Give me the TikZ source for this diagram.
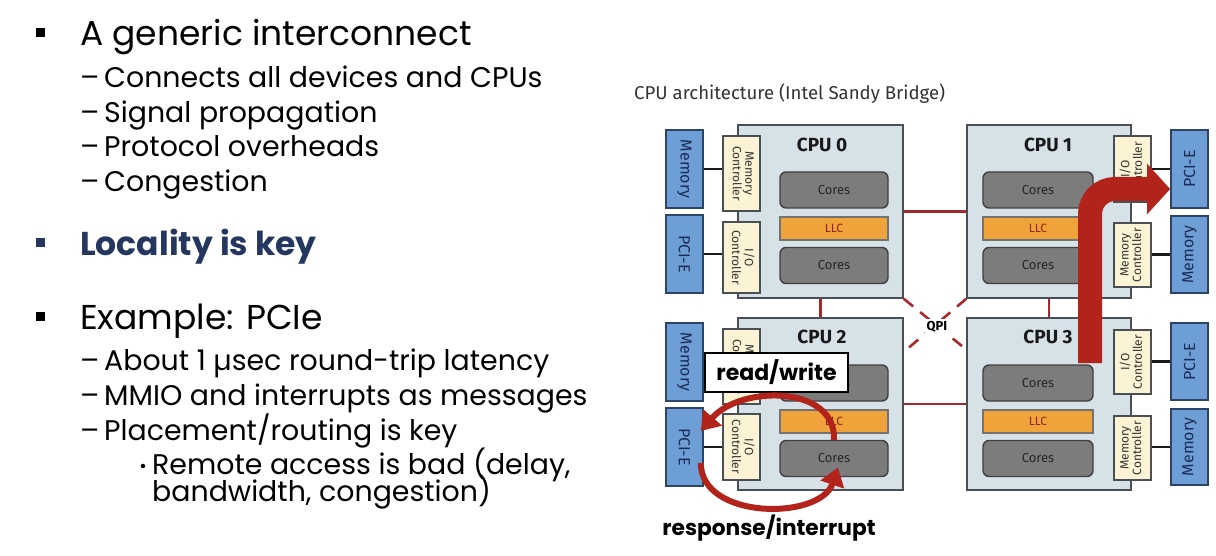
\documentclass[tikz,border=0pt]{standalone}
\usepackage{fontspec}
\setmainfont{Poppins}
\newfontfamily\diagfont{Fira Sans}
\usetikzlibrary{arrows.meta,calc}

\definecolor{cpufill}{HTML}{D6E1E8}
\definecolor{cpuedge}{HTML}{4A4F55}
\definecolor{devfill}{HTML}{6D9ED6}
\definecolor{devedge}{HTML}{2E4466}
\definecolor{devtext}{HTML}{1C2C55}
\definecolor{ctlfill}{HTML}{FCF3D4}
\definecolor{corefill}{HTML}{7C7C7C}
\definecolor{llcfill}{HTML}{F0A23B}
\definecolor{llctext}{HTML}{8C2A0C}
\definecolor{linkred}{HTML}{A8282C}
\definecolor{arrowred}{HTML}{B2241B}
\definecolor{navy}{HTML}{26375F}

\tikzset{
  cpu/.style={draw=cpuedge, fill=cpufill, line width=1.6pt, inner sep=0pt},
  dev/.style={draw=devedge, fill=devfill, line width=1.6pt, inner sep=0pt,
    minimum width=37pt, font=\diagfont\fontsize{16}{16}\selectfont, text=devtext},
  ctl/.style={draw=cpuedge, fill=ctlfill, line width=1.4pt, inner sep=0pt,
    minimum width=37pt, font=\diagfont\fontsize{12}{12}\selectfont, text=black!80},
  core/.style={draw=black!75, fill=corefill, rounded corners=6pt, line width=1.4pt,
    minimum height=36pt, inner sep=0pt, font=\diagfont\fontsize{13}{13}\selectfont, text=black!85},
  llc/.style={draw=black!55, fill=llcfill, line width=1.2pt, minimum height=23pt,
    inner sep=0pt, font=\diagfont\fontsize{12}{12}\selectfont, text=llctext},
  cpulbl/.style={font=\diagfont\bfseries\fontsize{19}{19}\selectfont, text=black!90},
  link/.style={draw=linkred, line width=2.6pt},
  qpilink/.style={draw=linkred, line width=2.6pt, dash pattern=on 12pt off 9pt},
  bus/.style={draw=black!90, line width=2.6pt},
  bigarrow/.style={draw=arrowred, line width=24pt, rounded corners=25pt,
    -{Triangle[length=23pt,width=49pt]}},
  looparrow/.style={draw=arrowred, line width=6pt,
    -{Triangle[length=18pt,width=24pt]}},
  lvlone/.style={anchor=base west, inner sep=0pt, font=\fontsize{34.5}{34.5}\selectfont},
  lvltwo/.style={anchor=base west, inner sep=0pt, font=\fontsize{28.4}{28.4}\selectfont},
  lvlthree/.style={anchor=base west, inner sep=0pt, font=\fontsize{28.4}{28.4}\selectfont},
  sqbullet/.style={fill=#1, minimum size=9pt, inner sep=0pt},
  sqbullet/.default=black,
  tag/.style={font=\bfseries\fontsize{21.7}{21.7}\selectfont, inner sep=0pt},
}

\newcommand{\rotl}[1]{\rotatebox{90}{\begin{tabular}{@{}c@{}}#1\end{tabular}}}
\newcommand{\rotr}[1]{\rotatebox{-90}{\begin{tabular}{@{}c@{}}#1\end{tabular}}}

\begin{document}
\begin{tikzpicture}[x=1pt,y=-1pt]
\useasboundingbox (0,0) rectangle (1216,556);

% ---------------- bullet list ----------------
\node[sqbullet] (b1) at (40,33) {};
\node[lvlone] (t1) at (80,46) {A generic interconnect};
\node[lvltwo] (d1) at (80,88) {–};
\node[lvltwo] (t11) at (104,88) {Connects all devices and CPUs};
\node[lvltwo] (d2) at (80,123) {–};
\node[lvltwo] (t12) at (104,123) {Signal propagation};
\node[lvltwo] (d3) at (80,157) {–};
\node[lvltwo] (t13) at (104,157) {Protocol overheads};
\node[lvltwo] (d4) at (80,192) {–};
\node[lvltwo] (t14) at (104,192) {Congestion};

\node[sqbullet=navy] (b2) at (40,243) {};
\node[lvlone, font=\bfseries\fontsize{33}{33}\selectfont, text=navy] (t2) at (80,256) {Locality is key};

\node[sqbullet] (b3) at (40,316) {};
\node[lvlone] (t3) at (80,329) {Example: PCIe};
\node[lvltwo] (d5) at (80,370) {–};
\node[lvltwo] (t31) at (104,370) {About 1 µsec round-trip latency};
\node[lvltwo] (d6) at (80,405) {–};
\node[lvltwo] (t32) at (104,405) {MMIO and interrupts as messages};
\node[lvltwo] (d7) at (80,440) {–};
\node[lvltwo] (t33) at (104,440) {Placement/routing is key};
\node[anchor=base, inner sep=0pt, font=\fontsize{18}{18}\selectfont] (bb) at (143,472) {•};
\node[lvlthree] (t331) at (152,474) {Remote access is bad (delay,};
\node[lvlthree] (t332) at (152,501) {bandwidth, congestion)};

% ---------------- diagram caption ----------------
\node[anchor=base west, inner sep=0pt, font=\diagfont\fontsize{18.6}{18.6}\selectfont, text=black!80]
  (cap) at (634,100) {CPU architecture (Intel Sandy Bridge)};

% ---------------- sockets ----------------
\node[cpu, minimum width=165pt, minimum height=173pt] (cpu0) at (820.5,211.5) {};
\node[cpu, minimum width=164pt, minimum height=173pt] (cpu1) at (1049,211.5) {};
\node[cpu, minimum width=165pt, minimum height=172pt] (cpu2) at (820.5,404) {};
\node[cpu, minimum width=164pt, minimum height=172pt] (cpu3) at (1049,404) {};

\node[cpulbl] (l0) at (822,145) {CPU 0};
\node[cpulbl] (l1) at (1048,145) {CPU 1};
\node[cpulbl] (l2) at (822,337) {CPU 2};
\node[cpulbl] (l3) at (1048,337) {CPU 3};

% QPI links
\draw[link] (cpu0) -- (cpu1);
\draw[link] (cpu2) -- (cpu3);
\draw[link] (cpu0) -- (cpu2);
\draw[link] (cpu1) -- (cpu3);
\coordinate (q3) at ($(cpu3.north west)!0.186!(cpu3.south west)$);
\coordinate (q2) at ($(cpu2.north east)!0.2!(cpu2.south east)$);
\draw[qpilink] (cpu0.south east) -- (q3);
\draw[qpilink] (cpu1.south west) -- (q2);
\node[fill=white, inner sep=2pt, font=\diagfont\bfseries\fontsize{13}{13}\selectfont] (qpi) at (937,327) {QPI};

% cores and last-level caches
\foreach \n/\cx/\w/\dy in {0/834/108/0, 2/834/108/193, 1/1038/110/0, 3/1038/110/193}{
  \node[core, minimum width=\w pt] (cores\n a) at (\cx,190+\dy) {Cores};
  \node[llc, minimum width=\w pt] (llc\n) at (\cx,228.5+\dy) {LLC};
  \node[core, minimum width=\w pt] (cores\n b) at (\cx,265.5+\dy) {Cores};
}

% controllers
\node[ctl, minimum height=75pt] (mc0) at (741.5,173.5) {\rotr{Memory\\Controller}};
\node[ctl, minimum height=71pt] (io0) at (741.5,257.5) {\rotr{I/O\\Controller}};
\node[ctl, minimum height=75pt] (mc2) at (741.5,366.5) {\rotr{Memory\\Controller}};
\node[ctl, minimum height=66pt] (io2) at (741.5,447) {\rotr{I/O\\Controller}};
\node[ctl, minimum height=66pt] (io1) at (1132.5,169) {\rotl{I/O\\Controller}};
\node[ctl, minimum height=64pt] (mc1) at (1132.5,255) {\rotl{Memory\\Controller}};
\node[ctl, minimum height=64pt] (io3) at (1132.5,362) {\rotl{I/O\\Controller}};
\node[ctl, minimum height=64pt] (mc3) at (1132.5,448) {\rotl{Memory\\Controller}};

% memory and PCI-E devices
\node[dev, minimum height=78pt] (mem0) at (684.5,169) {\rotatebox{-90}{Memory}};
\node[dev, minimum height=78pt] (pcie0) at (684.5,254) {\rotatebox{-90}{PCI-E}};
\node[dev, minimum height=78pt] (mem2) at (684.5,362) {\rotatebox{-90}{Memory}};
\node[dev, minimum height=78pt] (pcie2) at (684.5,447) {\rotatebox{-90}{PCI-E}};
\node[dev, minimum height=78pt] (pcie1) at (1189.5,169) {\rotatebox{90}{PCI-E}};
\node[dev, minimum height=77pt] (mem1) at (1189.5,254.5) {\rotatebox{90}{Memory}};
\node[dev, minimum height=77pt] (pcie3) at (1189.5,361.5) {\rotatebox{90}{PCI-E}};
\node[dev, minimum height=76pt] (mem3) at (1189.5,447) {\rotatebox{90}{Memory}};

% device buses
\draw[bus] (mem0.east) -- (mem0.east -| mc0.west);
\draw[bus] (pcie0.east) -- (pcie0.east -| io0.west);
\draw[bus] (mem2.east) -- (mem2.east -| mc2.west);
\draw[bus] (pcie2.east) -- (pcie2.east -| io2.west);
\draw[bus] (pcie1.west) -- (pcie1.west -| io1.east);
\draw[bus] (mem1.west) -- (mem1.west -| mc1.east);
\draw[bus] (pcie3.west) -- (pcie3.west -| io3.east);
\draw[bus] (mem3.west) -- (mem3.west -| mc3.east);

% remote access path from CPU 3 to the PCI-E device of CPU 1
\coordinate (remote) at (1090,363);
\coordinate (remotetip) at ($(pcie1.west)+(0,20)$);
\draw[bigarrow] (remote) -- (remote |- remotetip) -- (remotetip);

% local access loop between CPU 2 cores and its PCI-E device
\node[draw=black, line width=1.5pt, fill=white, minimum width=143pt, minimum height=39pt,
  inner sep=0pt, font=\bfseries\fontsize{22}{22}\selectfont] (rw) at (776.5,372.5) {read/write};
\draw[looparrow] (cores2b.north) .. controls +(2,-55) and +(40,-46) .. ($(pcie2.east)+(-3,-16)$);
\draw[looparrow] ($(pcie2.east)+(-3,16)$) .. controls +(0,57) and +(-18,53) .. ($(cores2b.center)+(4,9)$);
\node[tag] (ri) at (769,528) {response/interrupt};

\end{tikzpicture}
\end{document}
